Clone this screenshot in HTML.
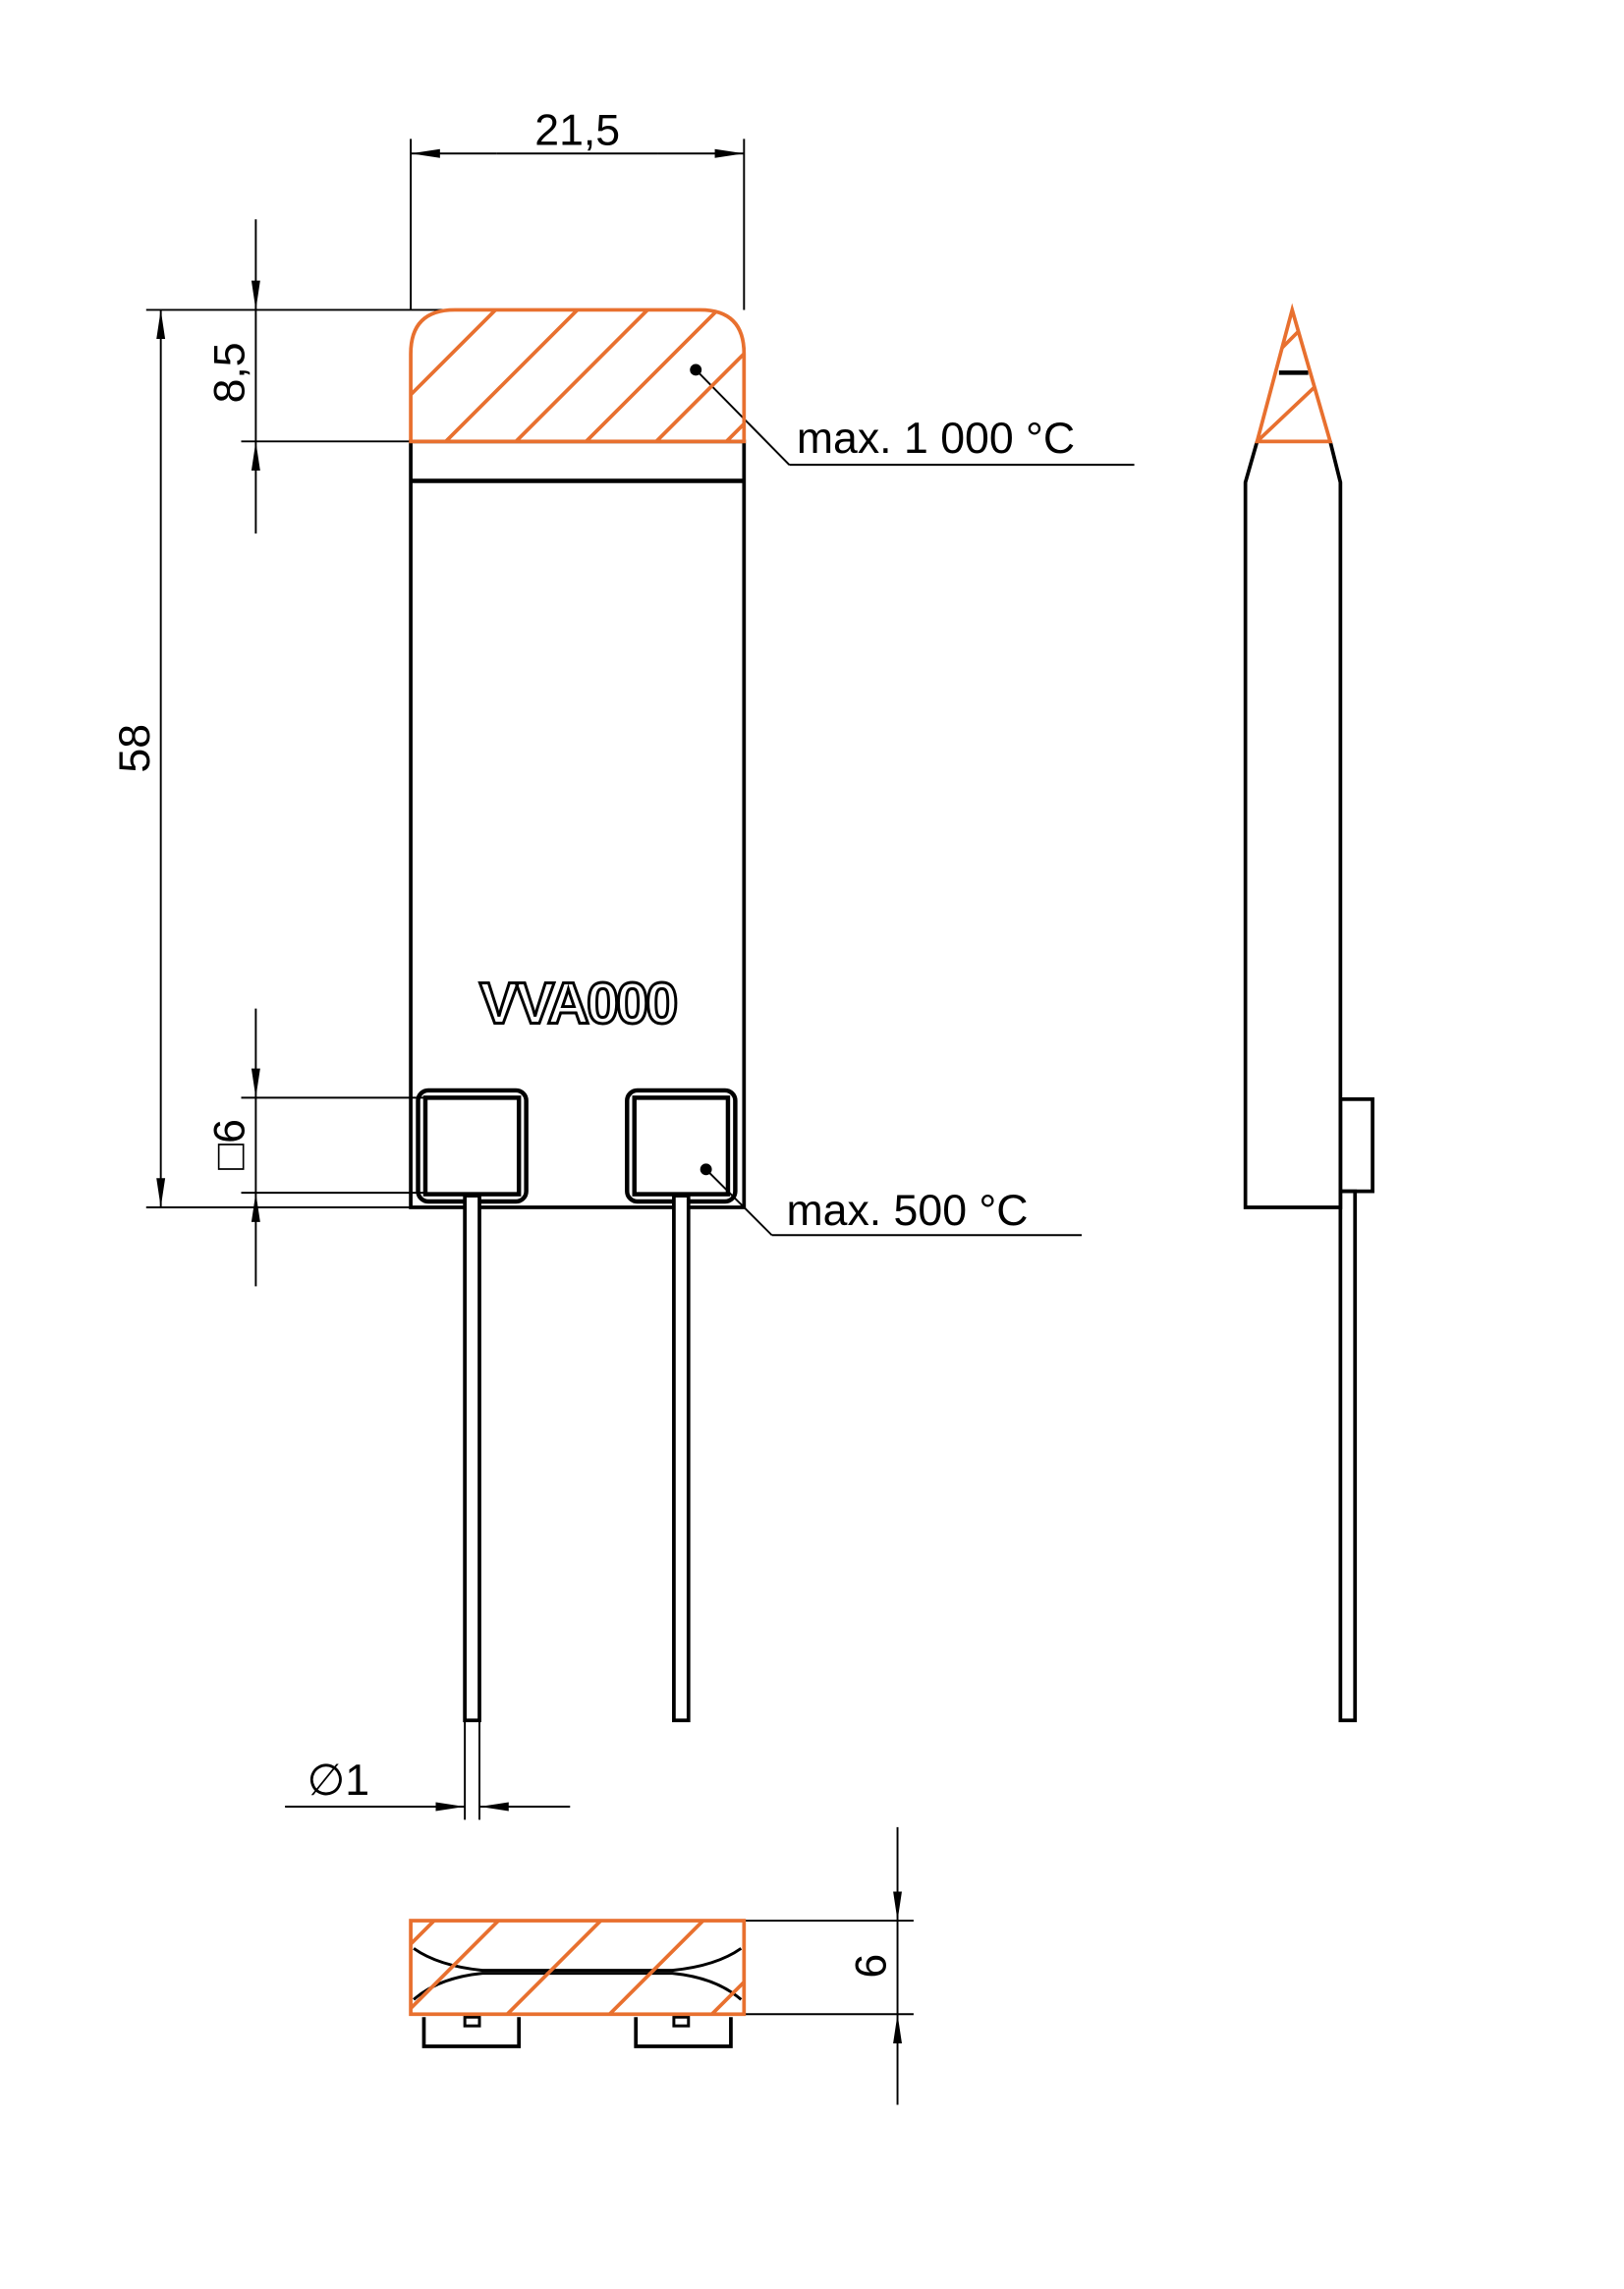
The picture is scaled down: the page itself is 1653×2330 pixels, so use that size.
<!DOCTYPE html>
<html><head><meta charset="utf-8"><style>html,body{margin:0;padding:0;background:#fff}svg{display:block}</style></head><body>
<svg width="1653" height="2330" viewBox="0 0 1111 1566" xmlns="http://www.w3.org/2000/svg" font-family="Liberation Sans, sans-serif">
<defs>
<clipPath id="c1"><path d="M281,302 L281,242 Q281,212 311,212 L479,212 Q509,212 509,242 L509,302 Z"/></clipPath>
<clipPath id="c2"><rect x="281" y="1314" width="228" height="64"/></clipPath>
<clipPath id="c3"><path d="M884,212 L860,302 L910,302 Z"/></clipPath>
<marker id="a" viewBox="0 0 20 8" refX="20" refY="4" markerWidth="20" markerHeight="8" markerUnits="userSpaceOnUse" orient="auto"><path d="M0,1 L20,4 L0,7 Z" fill="#000"/></marker>
</defs>
<g stroke="#000" fill="none">
<rect x="281" y="302" width="228" height="524" stroke-width="2.5"/>
<line x1="281" y1="329" x2="509" y2="329" stroke-width="3"/>
<rect x="286" y="746" width="74" height="76" rx="7" stroke-width="3"/>
<rect x="291" y="751" width="64" height="66" stroke-width="3"/>
<rect x="429" y="746" width="74" height="76" rx="7" stroke-width="3"/>
<rect x="434" y="751" width="64" height="66" stroke-width="3"/>
<rect x="318" y="818" width="10" height="359" fill="#fff" stroke-width="2.5"/>
<rect x="461" y="818" width="10" height="359" fill="#fff" stroke-width="2.5"/>
<g stroke-width="1.3">
<line x1="281" y1="95" x2="281" y2="212"/><line x1="509" y1="95" x2="509" y2="212"/>
<line x1="340" y1="105" x2="281" y2="105" marker-end="url(#a)"/><line x1="450" y1="105" x2="509" y2="105" marker-end="url(#a)"/>
<line x1="340" y1="105" x2="450" y2="105"/>
<line x1="100" y1="212" x2="320" y2="212"/><line x1="100" y1="826" x2="281" y2="826"/>
<line x1="110" y1="450" x2="110" y2="212" marker-end="url(#a)"/><line x1="110" y1="450" x2="110" y2="826" marker-end="url(#a)"/>
<line x1="165" y1="302" x2="281" y2="302"/>
<line x1="175" y1="150" x2="175" y2="212" marker-end="url(#a)"/><line x1="175" y1="365" x2="175" y2="302" marker-end="url(#a)"/>
<line x1="175" y1="212" x2="175" y2="302"/>
<line x1="165" y1="751" x2="291" y2="751"/><line x1="165" y1="816" x2="291" y2="816"/>
<line x1="175" y1="690" x2="175" y2="751" marker-end="url(#a)"/><line x1="175" y1="880" x2="175" y2="816" marker-end="url(#a)"/>
<line x1="175" y1="751" x2="175" y2="816"/>
<line x1="476" y1="253" x2="540" y2="318"/><line x1="540" y1="318" x2="776" y2="318"/>
<line x1="483" y1="800" x2="528" y2="845"/><line x1="528" y1="845" x2="740" y2="845"/>
<line x1="318" y1="1177" x2="318" y2="1245"/><line x1="328" y1="1177" x2="328" y2="1245"/>
<line x1="195" y1="1236" x2="318" y2="1236" marker-end="url(#a)"/><line x1="390" y1="1236" x2="328" y2="1236" marker-end="url(#a)"/>
<line x1="509" y1="1314" x2="625" y2="1314"/><line x1="509" y1="1378" x2="625" y2="1378"/>
<line x1="614" y1="1250" x2="614" y2="1314" marker-end="url(#a)"/><line x1="614" y1="1440" x2="614" y2="1378" marker-end="url(#a)"/>
<line x1="614" y1="1314" x2="614" y2="1378"/>
</g>
<circle cx="476" cy="253" r="4" fill="#000" stroke="none"/>
<circle cx="483" cy="800" r="4" fill="#000" stroke="none"/>
<path d="M860,302 L852,330 L852,826 L917,826 L917,330 L910,302" stroke-width="2.5"/>
<rect x="917" y="752" width="22" height="63" stroke-width="2.5"/>
<rect x="917" y="815" width="10" height="362" stroke-width="2.5"/>
<line x1="875" y1="255" x2="895" y2="255" stroke-width="3"/>
<path d="M283,1333 Q300,1345 330,1348 L460,1348 Q490,1345 507,1333" stroke-width="2"/>
<path d="M283,1368 Q300,1353 330,1350 L460,1350 Q490,1353 507,1368" stroke-width="2"/>
<path d="M290,1380 L290,1400 L355,1400 L355,1380 M435,1380 L435,1400 L500,1400 L500,1380" stroke-width="2.5"/>
<rect x="318" y="1380" width="10" height="6" stroke-width="2"/><rect x="461" y="1380" width="10" height="6" stroke-width="2"/>
</g>
<g stroke="#E8702F" fill="none" stroke-width="2.5">
<g clip-path="url(#c1)">
<path d="M281,270 L341,210 M305,302 L400,207 M353,302 L448,207 M401,302 L496,207 M449,302 L544,207 M497,302 L592,207"/>
</g>
<path d="M281,302 L281,242 Q281,212 311,212 L479,212 Q509,212 509,242 L509,302 Z"/>
<g clip-path="url(#c2)">
<path d="M281,1330 L300,1311 M270,1385 L345,1310 M340,1385 L415,1310 M410,1385 L485,1310 M480,1385 L555,1310"/>
</g>
<rect x="281" y="1314" width="228" height="64"/>
<g clip-path="url(#c3)"><path d="M870,245 L900,215 M860,302 L915,250"/></g>
<path d="M884,212 L860,302 L910,302 Z"/>
</g>
<g fill="#000" font-size="30">
<text x="395" y="99" text-anchor="middle">21,5</text>
<text x="545" y="310">max. 1 000 °C</text>
<text x="538" y="838">max. 500 °C</text>
<text x="210" y="1228">∅1</text>
<text transform="translate(102,512) rotate(-90)" text-anchor="middle">58</text>
<text transform="translate(167,255) rotate(-90)" text-anchor="middle">8,5</text>
<text transform="translate(167,783) rotate(-90)" text-anchor="middle">□6</text>
<text transform="translate(606,1345) rotate(-90)" text-anchor="middle">6</text>
</g>
<text x="395" y="700" text-anchor="middle" font-size="40" font-weight="bold" fill="#fff" stroke="#000" stroke-width="2" letter-spacing="-2">VVA000</text>
</svg>
</body></html>
